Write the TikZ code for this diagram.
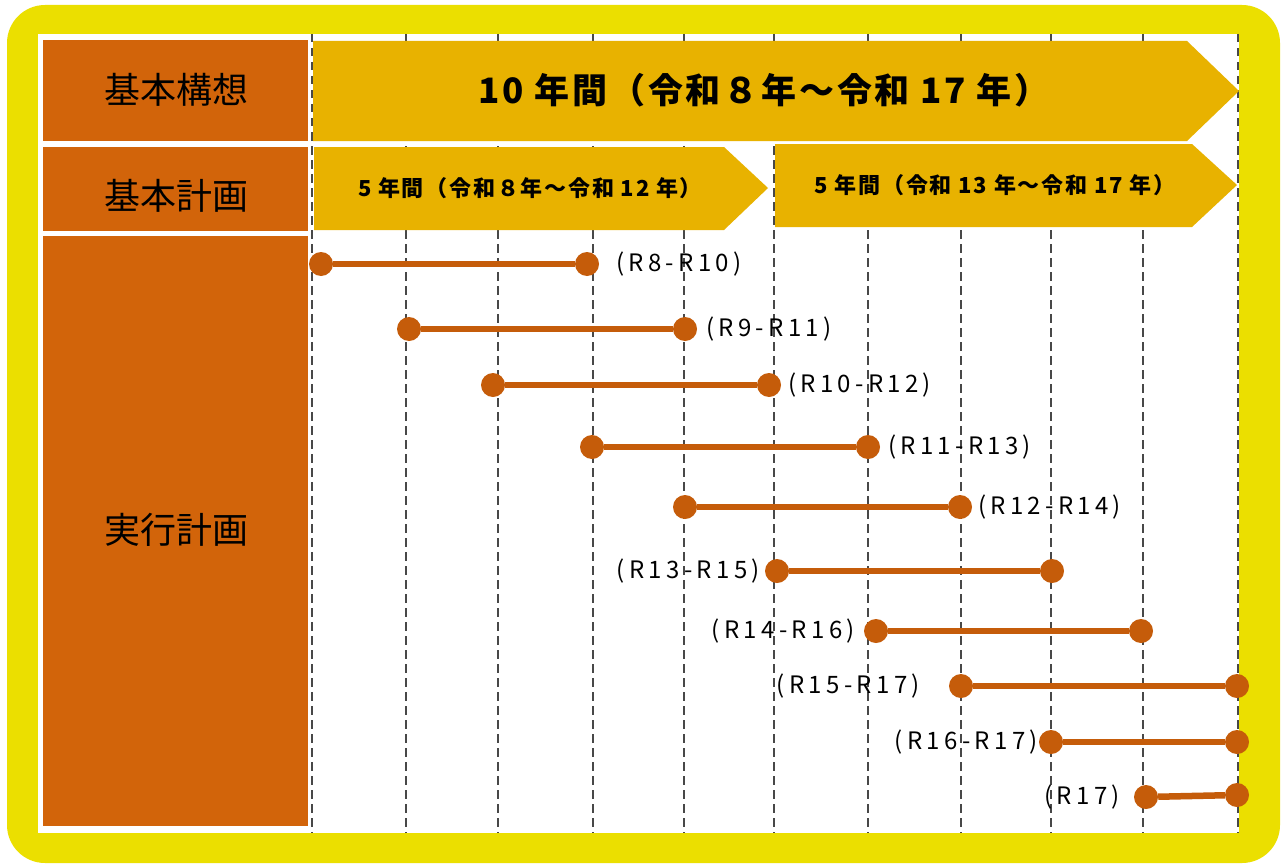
\documentclass[tikz,border=0pt]{standalone}
\usepackage{fontspec}
\usepackage{xcolor}
\usepackage{tikz}
\newfontfamily\jp{Noto Sans CJK JP}
\newfontfamily\jpwide[LetterSpace=8]{Noto Sans CJK JP}
\newfontfamily\jplbl[LetterSpace=18]{Noto Sans CJK JP}
\definecolor{frameyellow}{RGB}{235,223,0}
\definecolor{planorange}{RGB}{210,100,10}
\definecolor{bannergold}{RGB}{232,178,0}
\definecolor{segorange}{RGB}{197,92,10}
\definecolor{gridgray}{RGB}{72,72,72}

\begin{document}
\begin{tikzpicture}[x=10pt,y=10pt,
  gridline/.style={gridgray,line width=2.6pt,dash pattern=on 8.5pt off 5.5pt},
  enddot/.style={circle,fill=segorange,minimum size=24pt},
  segline/.style={segorange,line width=6.5pt},
  planlbl/.style={font=\jp\fontsize{36}{40}\selectfont},
  spantext/.style={font=\jpwide\bfseries\fontsize{22}{26}\selectfont},
  termlbl/.style={font=\jplbl\fontsize{24}{28}\selectfont}]
\tikzstyle{every node}+=[inner sep=0pt]
\useasboundingbox (0,0) rectangle (128.1,-86.4);
\fill [frameyellow, rounded corners=38pt] (0.7,-0.5) rectangle (128.0,-86.3);
\fill [white] (3.8,-3.4) rectangle (123.9,-83.3);
% year grid
\draw [gridline] (31.2,-3.4) -- (31.2,-83.3);
\draw [gridline] (40.6,-3.4) -- (40.6,-83.3);
\draw [gridline] (49.8,-3.4) -- (49.8,-83.3);
\draw [gridline] (59.3,-3.4) -- (59.3,-83.3);
\draw [gridline] (68.4,-3.4) -- (68.4,-83.3);
\draw [gridline] (77.4,-3.4) -- (77.4,-83.3);
\draw [gridline] (86.8,-3.4) -- (86.8,-83.3);
\draw [gridline] (96.1,-3.4) -- (96.1,-83.3);
\draw [gridline] (105.1,-3.4) -- (105.1,-83.3);
\draw [gridline] (114.3,-3.4) -- (114.3,-83.3);
\draw [gridline] (123.8,-3.4) -- (123.8,-83.3);
% left column
\fill [planorange] (4.3,-4.0) rectangle (30.8,-14.1);
\fill [planorange] (4.3,-14.7) rectangle (30.8,-23.1);
\fill [planorange] (4.3,-23.6) rectangle (30.8,-82.6);
\node [planlbl] (kousou) at (17.6,-9.0) {基本構想};
\node [planlbl] (kihon) at (17.6,-19.6) {基本計画};
\node [planlbl] (jikkou) at (17.6,-53.0) {実行計画};
% banners
\fill [bannergold] (31.3,-4.1) -- (118.7,-4.1) -- (123.9,-9.1) -- (118.7,-14.1) -- (31.3,-14.1) -- cycle;
\fill [bannergold] (31.4,-14.7) -- (72.4,-14.7) -- (76.8,-18.8) -- (72.4,-23.0) -- (31.4,-23.0) -- cycle;
\fill [bannergold] (77.5,-14.4) -- (119.2,-14.4) -- (123.7,-18.5) -- (119.2,-22.7) -- (77.5,-22.7) -- cycle;
\node [font=\jpwide\bfseries\fontsize{35}{40}\selectfont] (ten) at (76.4,-9.0) {10 年間（令和８年～令和 17 年）};
\node [spantext] (firstfive) at (53.0,-18.8) {5 年間（令和８年～令和 12 年）};
\node [spantext] (lastfive) at (99.5,-18.5) {5 年間（令和 13 年～令和 17 年）};
% rolling plans
\node [enddot] (r8a) at (32.1,-26.4) {};
\node [enddot] (r8b) at (58.7,-26.4) {};
\draw [segline] (r8a) -- (r8b);
\node [termlbl, anchor=west] (t8) at (61.6,-26.4) {(R8-R10)};
\node [enddot] (r9a) at (40.9,-32.9) {};
\node [enddot] (r9b) at (68.5,-32.9) {};
\draw [segline] (r9a) -- (r9b);
\node [termlbl, anchor=west] (t9) at (70.6,-32.9) {(R9-R11)};
\node [enddot] (r10a) at (49.3,-38.5) {};
\node [enddot] (r10b) at (76.9,-38.5) {};
\draw [segline] (r10a) -- (r10b);
\node [termlbl, anchor=west] (t10) at (78.8,-38.5) {(R10-R12)};
\node [enddot] (r11a) at (59.2,-44.7) {};
\node [enddot] (r11b) at (86.8,-44.7) {};
\draw [segline] (r11a) -- (r11b);
\node [termlbl, anchor=west] (t11) at (88.8,-44.7) {(R11-R13)};
\node [enddot] (r12a) at (68.5,-50.7) {};
\node [enddot] (r12b) at (96.0,-50.7) {};
\draw [segline] (r12a) -- (r12b);
\node [termlbl, anchor=west] (t12) at (97.8,-50.7) {(R12-R14)};
\node [enddot] (r13a) at (77.7,-57.1) {};
\node [enddot] (r13b) at (105.2,-57.1) {};
\draw [segline] (r13a) -- (r13b);
\node [termlbl, anchor=east] (t13) at (76.0,-57.1) {(R13-R15)};
\node [enddot] (r14a) at (87.6,-63.1) {};
\node [enddot] (r14b) at (114.1,-63.1) {};
\draw [segline] (r14a) -- (r14b);
\node [termlbl, anchor=east] (t14) at (85.5,-63.1) {(R14-R16)};
\node [enddot] (r15a) at (96.1,-68.6) {};
\node [enddot] (r15b) at (123.7,-68.6) {};
\draw [segline] (r15a) -- (r15b);
\node [termlbl, anchor=east] (t15) at (92.0,-68.6) {(R15-R17)};
\node [enddot] (r16a) at (105.1,-74.2) {};
\node [enddot] (r16b) at (123.7,-74.2) {};
\draw [segline] (r16a) -- (r16b);
\node [termlbl, anchor=east] (t16) at (103.8,-74.2) {(R16-R17)};
\node [enddot] (r17a) at (114.6,-79.7) {};
\node [enddot] (r17b) at (123.7,-79.5) {};
\draw [segline] (r17a) -- (r17b);
\node [termlbl, anchor=east] (t17) at (112.0,-79.7) {(R17)};
\end{tikzpicture}
\end{document}
